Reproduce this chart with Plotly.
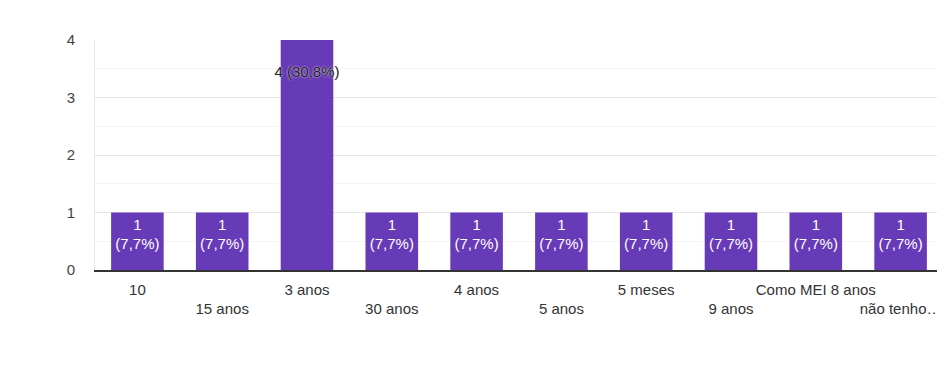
import plotly.graph_objects as go

categories = ["10", "15 anos", "3 anos", "30 anos", "4 anos", "5 anos",
              "5 meses", "9 anos", "Como MEI 8 anos", "não tenho…"]
values = [1, 1, 4, 1, 1, 1, 1, 1, 1, 1]
percents = ["7,7%", "7,7%", "30,8%", "7,7%", "7,7%", "7,7%", "7,7%", "7,7%", "7,7%", "7,7%"]
y_ticks = [0, 1, 2, 3, 4]

labels = []
colors = []
shadows = []
for v, p in zip(values, percents):
    if v == max(values):
        labels.append(f"&nbsp;<br>{v} ({p})")
        colors.append("#222222")
        shadows.append("0 0 2px white")
    else:
        labels.append(f"{v}<br>({p})")
        colors.append("#ffffff")
        shadows.append("none")

ticktext = [c if i % 2 == 0 else "<br>" + c for i, c in enumerate(categories)]

fig = go.Figure(go.Bar(
    x=categories, y=values, text=labels,
    textposition="inside", insidetextanchor="end", textangle=0,
    textfont=dict(color=colors, size=15, family="Liberation Sans, Arial",
                  shadow=shadows),
    marker=dict(color="#673ab7", line=dict(width=0)),
    width=0.62, cliponaxis=False, hoverinfo="skip",
))

# page body has an 8px default margin, so the figure is sized to fit the window
fig.update_layout(
    width=937, height=359,
    margin=dict(l=87, r=2, t=32, b=97, autoexpand=False),
    plot_bgcolor="white", paper_bgcolor="white",
    font=dict(family="Liberation Sans, Arial", size=15, color="#444444"),
    uniformtext=dict(minsize=15, mode="show"),
    showlegend=False,
)
fig.update_xaxes(
    tickmode="array", tickvals=categories, ticktext=ticktext, tickangle=0,
    tickfont=dict(size=15, color="#333333"), ticks="", showgrid=False,
    ticklabelstandoff=5,
    showline=True, linecolor="#333333", linewidth=1.5, automargin=False,
    range=[-0.5, len(categories) - 0.5],
)
fig.update_yaxes(
    range=[0, 4], tickvals=y_ticks, ticks="", ticklabelstandoff=16,
    tickfont=dict(size=15, color="#444444"), automargin=False,
    showgrid=True, gridcolor="#e6e6e6", gridwidth=1,
    minor=dict(dtick=0.5, showgrid=True, gridcolor="#f4f4f4"),
    zeroline=False, showline=True, linecolor="#e6e6e6",
    mirror=True,
)

fig.write_html("out.html")
